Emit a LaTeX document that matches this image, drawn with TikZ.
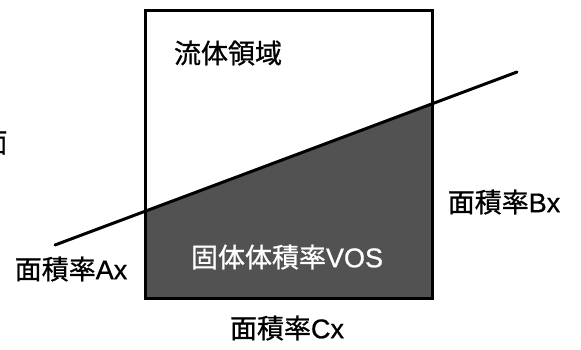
\documentclass[tikz,border=0pt]{standalone}
\usepackage{fontspec}
\setmainfont{Noto Sans CJK JP}[FakeBold=0.8]
\newfontfamily\lat{Liberation Sans}[FakeBold=0.8]
\begin{document}
\begin{tikzpicture}[x=1pt,y=-1pt,
  lbl/.style={inner sep=0pt,font=\fontsize{27}{27}\selectfont},
  edge/.style={line width=3pt}]
\useasboundingbox (0,0) rectangle (581,349);
\coordinate (TL) at (145,10);
\coordinate (TR) at (432,10);
\coordinate (BR) at (432,298);
\coordinate (BL) at (145,298);
\coordinate (LA) at (55,245);
\coordinate (LB) at (517,72);
\coordinate (PL) at (145,211.3);
\coordinate (PR) at (432,103.8);
\fill[black!68] (PL) -- (PR) -- (BR) -- (BL) -- cycle;
\draw[edge] (TL) -- (TR) -- (BR) -- (BL) -- cycle;
\draw[edge,line cap=round] (LA) -- (LB);
\node[lbl] (fluid) at (228,53) {流体領域};
\node[lbl,text=white] (vos) at (287,257) {固体体積率{\lat VOS}};
\node[lbl] (cx) at (287,328) {面積率{\lat Cx}};
\node[lbl] (ax) at (71,269) {面積率{\lat Ax}};
\node[lbl] (bx) at (504,202) {面積率{\lat Bx}};
\node[lbl] (cut) at (-6,143) {面};
\end{tikzpicture}
\end{document}
